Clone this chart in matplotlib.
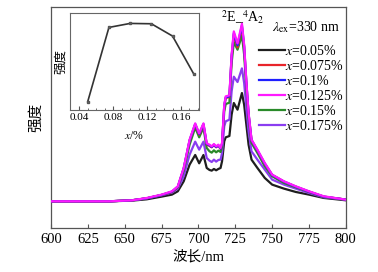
import numpy as np
import matplotlib
matplotlib.use("Agg")
import matplotlib.pyplot as plt

plt.rcParams['font.family'] = ['Liberation Serif', 'Noto Sans CJK SC']
plt.rcParams['mathtext.fontset'] = 'stix'

WL = [600, 640, 655, 665, 675, 682, 686, 690, 694, 697.8, 700.5, 703.4, 705.6,
      707.5, 709, 710.5, 712, 713.5, 715, 716, 717.5, 718.5, 721, 722.5, 724,
      726.5, 729.5, 731, 732.5, 734, 736, 740, 745, 750, 758, 766, 775, 785, 800]

I_005 = [0, 0, 2, 6, 14, 20, 30, 60, 110, 139, 114, 139, 100,
         94, 92, 97, 93, 97, 100, 120, 180, 192, 196, 260, 295,
         275, 325, 290, 230, 170, 125, 100, 70, 50, 38, 28, 20, 10, 3]
I_0075 = [0, 0, 3, 9, 19, 28, 43, 98, 182, 230, 200, 230, 171,
          166, 162, 169, 162, 167, 157, 172, 285, 310, 313, 432, 500,
          462, 522, 462, 355, 262, 183, 152, 112, 79, 59, 44, 29, 14, 5]
I_01 = [0, 0, 3, 9, 19, 29, 44, 99, 183, 232, 202, 232, 172,
        168, 163, 170, 163, 168, 158, 173, 287, 312, 315, 436, 505,
        468, 528, 466, 357, 263, 184, 153, 113, 79, 59, 44, 29, 14, 5]
I_0125 = [0, 0, 3, 10, 20, 30, 45, 100, 185, 234, 204, 234, 174,
          170, 165, 172, 165, 170, 160, 175, 290, 315, 318, 440, 510,
          474, 533, 470, 360, 265, 185, 155, 115, 80, 60, 45, 30, 15, 5]
I_015 = [0, 0, 3, 9, 19, 28, 42, 92, 170, 221, 192, 221, 160,
         150, 146, 153, 147, 152, 148, 165, 270, 292, 296, 415, 478,
         455, 498, 440, 340, 250, 175, 145, 105, 75, 55, 42, 28, 13, 5]
I_0175 = [0, 0, 3, 9, 18, 26, 38, 75, 140, 179, 155, 179, 130,
          122, 118, 125, 119, 124, 125, 145, 225, 240, 245, 330, 374,
          358, 399, 355, 280, 210, 150, 125, 95, 65, 50, 38, 25, 12, 5]

LABELS = ['0.05', '0.075', '0.1', '0.125', '0.15', '0.175']
COLORS = ['#1e1e1e', '#e8242a', '#1f1fff', '#ff1aff', '#2a8a2a', '#8a3df0']

# inset: peak intensity vs concentration
X_CONC = [0.05, 0.075, 0.1, 0.125, 0.15, 0.175]
Y_PEAK = [25, 248, 260, 259, 222, 108]

fig = plt.figure(figsize=(3.78, 2.72), dpi=100)
ax = fig.add_axes([0.135, 0.162, 0.780, 0.812])

series = [I_005, I_0075, I_01, I_0125, I_015, I_0175]
handles = []
for s, lab, c in zip(series, LABELS, COLORS):
    h, = ax.plot(WL, s, color=c, lw=1.6, label=r'$x$=' + lab + '%')
    handles.append(h)
# draw order so magenta sits on top
zs = {0: 2, 5: 3, 4: 4, 1: 5, 2: 6, 3: 7}
for i, h in enumerate(handles):
    h.set_zorder(zs[i])

ax.set_xlim(600, 800)
ax.set_ylim(-80, 583)
ax.set_xticks(np.arange(600, 801, 25))
ax.set_yticks([])
ax.tick_params(axis='x', direction='in', length=3, labelsize=10.5, color='#555555')
for sp in ax.spines.values():
    sp.set_color('#555555')
    sp.set_linewidth(0.9)
ax.set_xlabel('波长/nm', fontsize=10.5, labelpad=3)
ax.set_ylabel('强度', fontsize=10.5, labelpad=6)

ax.text(730, 553, r'$^2$E_$^4$A$_2$', fontsize=10, ha='center', va='center')
ax.text(773, 523, r'$\lambda_{\rm ex}$=330 nm', fontsize=10, ha='center', va='center')

leg = ax.legend(handles=handles, loc='upper right', bbox_to_anchor=(1.01, 0.86),
                frameon=False, fontsize=10, handlelength=1.9, handletextpad=-0.05,
                labelspacing=0.08, borderaxespad=0)

ins = fig.add_axes([0.185, 0.596, 0.341, 0.357])
ins.plot(X_CONC, Y_PEAK, color='#333333', lw=1.2, marker='s', ms=2,
         mfc='#777777', mec='#555555')
ins.set_xlim(0.029, 0.181)
ins.set_ylim(0, 292)
ins.set_xticks([0.04, 0.08, 0.12, 0.16])
ins.set_xticklabels(['0.04', '0.08', '0.12', '0.16'])
ins.set_xticks(np.arange(0.04, 0.181, 0.01), minor=True)
ins.set_yticks([])
ins.tick_params(axis='x', which='both', direction='in', labelsize=8, color='#555555', pad=2)
ins.tick_params(axis='x', which='major', length=3)
ins.tick_params(axis='x', which='minor', length=1.5)
for sp in ins.spines.values():
    sp.set_color('#666666')
    sp.set_linewidth(0.8)
ins.set_xlabel(r'$x$/%', fontsize=8.5, labelpad=6)
ins.set_ylabel('强度', fontsize=9, labelpad=2)

fig.savefig('out.png', dpi=100)
